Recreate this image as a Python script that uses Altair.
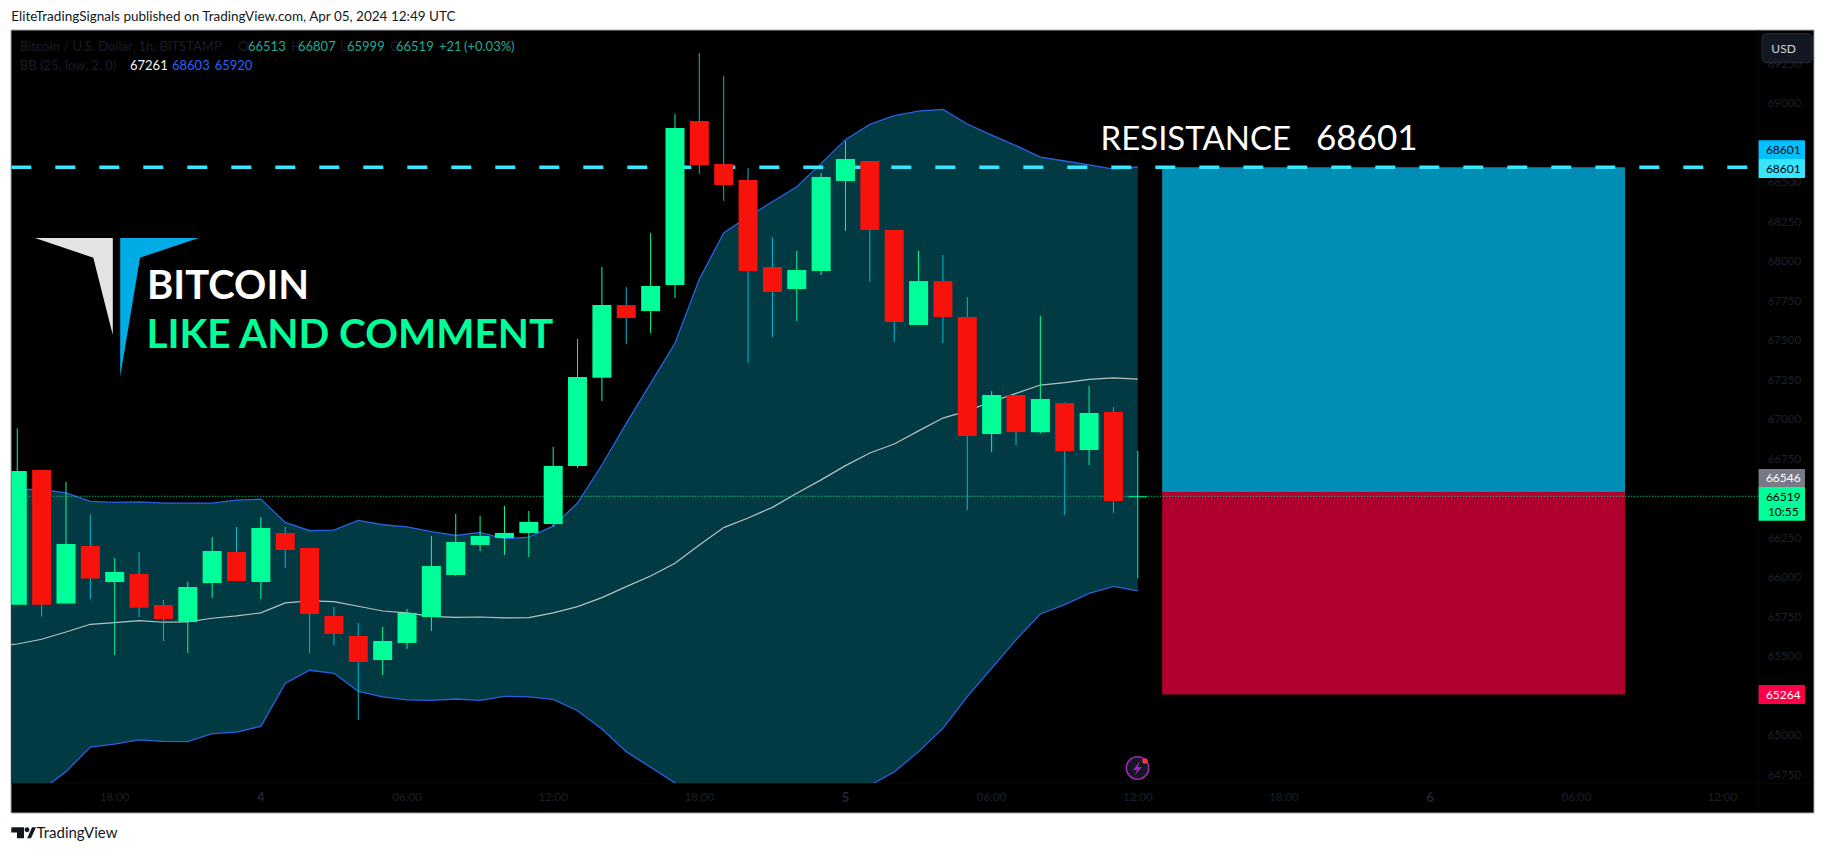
import altair as alt
import pandas as pd

# ---------- chart values ----------
bar_index = list(range(-4, 43))
opens = [65833,66686,65840,66205,65977,66027,65831,65724,65971,66167,65977,66287,66192,65762,65635,65483,65591,65755,66021,66211,66255,66287,66344,66711,
         67269,67729,67691,67856,68894,68622,68521,67970,67831,67945,68514,68641,68204,67603,67881,67653,66913,67160,66925,67109,66812,67052,66513]
highs = [66948,66686,66610,66401,66129,66167,65863,65977,66262,66325,66388,66325,66192,65819,65717,65692,65806,66268,66407,66395,66458,66426,66831,67515,
         67970,67843,68185,68938,69325,69179,68597,68160,68071,68565,68767,68641,68204,68071,68046,67780,67185,67160,67660,67115,67217,67084,66807]
lows = [65833,65757,65840,65869,65515,65755,65603,65527,65876,65983,65869,66065,65527,65578,65103,65388,65553,65667,66015,66173,66148,66135,66325,66698,
        67122,67482,67552,67774,68559,68388,67362,67527,67628,67919,68198,67875,67495,67603,67489,66432,66799,66843,66917,66400,66717,66413,65999]
closes = [66679,65833,66217,65998,66040,65814,65743,65945,66173,65983,66319,66179,65774,65648,65470,65603,65781,66078,66230,66268,66287,66357,66711,67274,
          67729,67647,67850,68850,68616,68489,67945,67812,67951,68540,68654,68204,67622,67881,67653,66900,67160,66925,67134,66805,67046,66489,66519]

band_index = list(range(-5, 43))
bb_upper = [66562,66562,66562,66541,66487,66480,66484,66476,66476,66476,66495,66501,66354,66301,66305,66366,66339,66326,66295,66271,66290,66250,66261,66330,66476,
            66717,66980,67234,67487,67892,68185,68289,68383,68478,68626,68776,68873,68928,68957,68968,68875,68805,68738,68666,68641,68616,68590,68603]
bb_basis = [65570,65584,65614,65660,65709,65719,65732,65722,65724,65747,65762,65781,65844,65857,65852,65823,65793,65781,65759,65753,65755,65749,65751,65781,65821,
            65878,65947,66015,66095,66211,66321,66382,66449,66538,66623,66713,66793,66850,66933,67014,67060,67117,67170,67223,67238,67259,67269,67261]
bb_lower = [64500,64576,64660,64776,64932,64951,64977,64968,64966,65017,65027,65063,65335,65418,65399,65285,65249,65230,65228,65236,65228,65253,65249,65234,65162,
            65046,64903,64804,64705,64618,64544,64481,64428,64407,64418,64470,64690,64774,64903,65050,65251,65430,65610,65774,65833,65905,65949,65920]

resistance = 68601
entry = 66546
stop = 65264
last_price = 66519
box_start, box_end = 43, 62

price_ticks = [69250,69000,68500,68250,68000,67750,67500,67250,67000,66750,66250,66000,65750,65500,65000,64750]
time_ticks = [0,6,12,18,24,30,36,42,48,54,60,66]
time_labels = ['18:00','4','06:00','12:00','18:00','5','06:00','12:00','18:00','6','06:00','12:00']
time_is_day = [False,True,False,False,False,True,False,False,False,True,False,False]

legend_items = [("Bitcoin / U.S. Dollar, 1h, BITSTAMP",20,"#1a1e28"),("O",238,"#1a1e28"),("66513",248,"#22ab94"),("H",291,"#1a1e28"),("66807",298,"#22ab94"),
                ("L",340,"#1a1e28"),("65999",347,"#22ab94"),("C",390,"#1a1e28"),("66519",396,"#22ab94"),("+21",439,"#22ab94"),("(+0.03%)",464,"#22ab94")]
legend_items2 = [("BB (25, low, 2, 0)",20,"#1a1e28"),("67261",130,"#f0f3fa"),("68603",172,"#2962ff"),("65920",214.7,"#2962ff")]

# ---------- page geometry ----------
PANE_L, PANE_T, PANE_R, PANE_B = 11.3, 30.0, 1758.0, 783.0
W, H = PANE_R - PANE_L, PANE_B - PANE_T
FONT = "Lato"

xs = alt.Scale(domain=[-4.245, 67.46], nice=False, zero=False, padding=0)
ys = alt.Scale(domain=[64704.5, 69470], nice=False, zero=False)
one = alt.Data(values=[{}])
GREEN, RED = "#00ff99", "#f7120c"

def px(v): return alt.value(v - PANE_L)
def py(v): return alt.value(v - PANE_T)

def rect(x0, y0, x1, y1, fill, **kw):
    return alt.Chart(one).mark_rect(fill=fill, **kw).encode(x=px(x0), x2=px(x1), y=py(y0), y2=py(y1))

def label(s, x, y, color, size=11, align="left", baseline="middle", weight="normal", font=FONT):
    return alt.Chart(one).mark_text(text=s, color=color, fontSize=size, align=align, baseline=baseline,
                                    fontWeight=weight, font=font).encode(x=px(x), y=py(y))

def poly(points, fill):
    d = "M" + " L".join(f"{x-PANE_L:.1f},{y-PANE_T:.1f}" for x, y in points) + " Z"
    return alt.Chart(one).mark_point(shape=d, size=4, filled=True, fill=fill, opacity=1, strokeWidth=0).encode(
        x=alt.value(0), y=alt.value(0))

candles = pd.DataFrame({"i": bar_index, "o": opens, "h": highs, "l": lows, "c": closes})
candles["up"] = candles.c >= candles.o
bands = pd.DataFrame({"i": band_index, "upper": bb_upper, "basis": bb_basis, "lower": bb_lower})
price_df = pd.DataFrame({"p": price_ticks})
price_df["s"] = price_df.p.astype(str)
time_df = pd.DataFrame({"t": time_ticks, "s": time_labels, "day": time_is_day})

X = alt.X("i:Q", scale=xs, axis=None)
Y_none = dict(scale=ys, axis=None)
AXIS_TXT = "#1c202a"

layers = []
# black frame of the whole chart
layers.append(rect(11, 30, 1814, 813, "#000000", stroke="#a5a8b0", strokeWidth=1))

# Bollinger fill
layers.append(alt.Chart(bands).mark_area(color="#023a43", clip=True).encode(
    x=X, y=alt.Y("upper:Q", **Y_none), y2="lower:Q"))

# position tool
box = pd.DataFrame({"a": [box_start, box_start], "b": [box_end, box_end],
                    "t": [resistance, entry], "u": [entry, stop], "k": ["#008eb4", "#b0002e"]})
layers.append(alt.Chart(box).mark_rect(clip=True).encode(
    x=alt.X("a:Q", scale=xs, axis=None), x2="b:Q",
    y=alt.Y("t:Q", **Y_none), y2="u:Q",
    fill=alt.Fill("k:N", scale=None)))

# Bollinger lines
layers.append(alt.Chart(bands).mark_line(color="#2962e0", strokeWidth=1.3, clip=True).encode(x=X, y=alt.Y("upper:Q", **Y_none)))
layers.append(alt.Chart(bands).mark_line(color="#2962e0", strokeWidth=1.3, clip=True).encode(x=X, y=alt.Y("lower:Q", **Y_none)))
layers.append(alt.Chart(bands).mark_line(color="#b8c2c2", strokeWidth=1.2, clip=True).encode(x=X, y=alt.Y("basis:Q", **Y_none)))

# horizontal levels
layers.append(alt.Chart(one).mark_rule(color="#00ff99", strokeWidth=1, strokeDash=[1, 2], clip=True).encode(
    x=alt.value(0), x2=alt.value(W), y=alt.Y(datum=last_price, **Y_none)))
layers.append(alt.Chart(one).mark_rule(color="#38e6ff", strokeWidth=3.5, strokeDash=[20, 24], clip=True).encode(
    x=alt.value(0), x2=alt.value(W), y=alt.Y(datum=resistance, **Y_none)))

# candles
layers.append(alt.Chart(candles).mark_rule(strokeWidth=1, clip=True).encode(
    x=X, y=alt.Y("l:Q", **Y_none), y2="h:Q", stroke=alt.Stroke("up:N", scale=alt.Scale(domain=[True, False], range=[GREEN, "#00bcd4"]), legend=None)))
layers.append(alt.Chart(candles).mark_bar(size=19, clip=True, minBandSize=1).encode(
    x=X, y=alt.Y("o:Q", **Y_none), y2="c:Q", fill=alt.Fill("up:N", scale=alt.Scale(domain=[True, False], range=[GREEN, RED]), legend=None)))

# price and time scale labels
layers.append(alt.Chart(price_df).mark_text(color=AXIS_TXT, font=FONT, fontSize=11.5, align="left", baseline="middle").encode(
    x=px(1767.7), y=alt.Y("p:Q", **Y_none), text="s:N"))
layers.append(alt.Chart(time_df[~time_df.day]).mark_text(color=AXIS_TXT, font=FONT, fontSize=11.5, align="center", baseline="middle").encode(
    x=alt.X("t:Q", scale=xs, axis=None), y=py(798), text="s:N"))
layers.append(alt.Chart(time_df[time_df.day]).mark_text(color="#232736", font=FONT, fontSize=13, fontWeight="bold", align="center", baseline="middle").encode(
    x=alt.X("t:Q", scale=xs, axis=None), y=py(798), text="s:N"))

# logo and big text
layers.append(poly([(35,238),(112.8,238),(112.8,335),(93.3,257.7)], "#e4e4e4"))
layers.append(poly([(120.2,238),(198.8,238),(140,257.7),(120.2,376.7)], "#00ace6"))
layers.append(label("BITCOIN", 147, 299.3, "#ffffff", size=40, baseline="alphabetic", weight="bold"))
layers.append(label("LIKE AND COMMENT", 146.5, 348, GREEN, size=40.5, baseline="alphabetic", weight="bold"))
layers.append(label("RESISTANCE", 1100.5, 150, "#ffffff", size=33, baseline="alphabetic"))
layers.append(label("68601", 1316, 150, "#ffffff", size=35, baseline="alphabetic"))

# pane legend
for s, x, c in legend_items:
    layers.append(label(s, x, 46.7, c, size=13))
for s, x, c in legend_items2:
    layers.append(label(s, x, 65.7, c, size=13))

# USD button
layers.append(rect(1762, 33.7, 1812, 62.7, "#131722", stroke="#2a2e39", cornerRadius=4))
layers.append(label("USD", 1783.6, 48.5, "#d1d4dc", size=12, align="center"))

# price tags
tags = [(140.3,159,"#00c0ff","68601","#000000"),(159,178,"#36e6ff","68601","#000000"),
        (469,487,"#787b86","66546","#ffffff"),(685,704,"#ff0048","65264","#ffffff")]
for y0, y1, f, s, c in tags:
    layers.append(rect(1758, y0, 1805, y1, f, cornerRadius=1))
    layers.append(label(s, 1783.3, (y0+y1)/2, c, size=12, align="center"))
layers.append(rect(1758, 487, 1805, 520.7, "#00ff99", cornerRadius=1))
layers.append(label("66519", 1783.3, 496.5, "#000000", size=12, align="center"))
layers.append(label("10:55", 1783.3, 511.5, "#000000", size=12, align="center"))

# pane separators
layers.append(rect(1758, 30, 1758.6, 813, "#0d0f14"))
layers.append(rect(11, 783, 1814, 783.6, "#0d0f14"))

# lightning badge
layers.append(alt.Chart(one).mark_point(shape="circle", size=500, filled=True, fill="#131722", stroke="#9c27b0", strokeWidth=1.6, opacity=1).encode(
    x=px(1137.5), y=py(768)))
layers.append(poly([(1140,761),(1133,770),(1137,770),(1134.5,776),(1142,767),(1138,767)], "#9c27b0"))
layers.append(alt.Chart(one).mark_point(shape="circle", size=30, filled=True, fill="#f23645", opacity=1, strokeWidth=0).encode(
    x=px(1145), y=py(761)))

# header and footer
layers.append(label("EliteTradingSignals published on TradingView.com, Apr 05, 2024 12:49 UTC", 11.3, 16.5, "#131722", size=13.5))
layers.append(poly([(11.3,827.3),(24,827.3),(24,838.3),(17,838.3),(17,832.5),(11.3,832.5)], "#131722"))
layers.append(alt.Chart(one).mark_point(shape="circle", size=24, filled=True, fill="#131722", opacity=1, strokeWidth=0).encode(x=px(27), y=py(829.8)))
layers.append(poly([(27.2,838.3),(32,827.3),(36,827.3),(31,838.3)], "#131722"))
layers.append(label("TradingView", 36.5, 838, "#131722", size=15, baseline="alphabetic"))

chart = alt.layer(*layers).resolve_scale(fill="independent", stroke="independent").properties(
    width=W, height=H,
    padding={"left": PANE_L - 8, "top": PANE_T - 8, "right": 60, "bottom": 60},
    autosize=alt.AutoSizeParams(type="none"),
    background="#ffffff",
).configure_view(stroke=None)

chart.save("out.html", embed_options={"renderer": "svg", "actions": False})
